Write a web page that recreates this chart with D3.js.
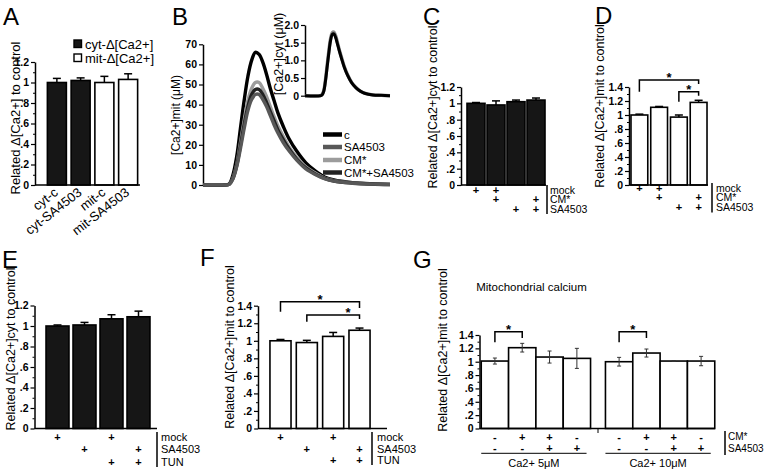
<!DOCTYPE html>
<html><head><meta charset="utf-8">
<script src="https://cdn.jsdelivr.net/npm/d3@7"></script>
<style>body{margin:0;background:#fff}svg{display:block}text{font-family:'Liberation Sans',Arial,Helvetica,sans-serif;fill:#000}</style>
</head><body><svg id="c" width="764" height="475"></svg>
<script>
// ---------------- DATA ----------------
// Panel A
const aCats = ["cyt-c","cyt-SA4503","mit-c","mit-SA4503"];
const aVals = [1.00, 1.02, 1.00, 1.03];
const aErr  = [0.04, 0.025, 0.06, 0.055];
const aLegend = ["cyt-Δ[Ca2+]","mit-Δ[Ca2+]"];
// Panel B (main: mitochondrial trace; inset: cytosolic trace)
const bTime = [0,12,14,16,18,20,22,24,26,28,30,32,34,36,38,40,43,46,50,55,60,65,70,80,90,100];
const bC    = [0,0,0.5,5,14,28,42,54,62,66,65,61,55,48,42,36,29,23,17,11,7,4,2.5,1.2,0.6,0.3];
const bSA   = [0,0,0.3,3,9,18,28,37,42.5,45,45,42.5,39,34.5,30,26,21,17,12.5,8,5.2,3.1,1.9,0.9,0.45,0.2];
const bCM   = [0,0,0.4,3.5,10,21,32,42,48,51,51,48,44,39,34,29.5,24,19,14,9,6,3.5,2.2,1.1,0.5,0.3];
const bCMSA = [0,0,0.4,3.2,9.5,19.5,30,39,45,47.5,47.5,45,41,36.5,32,27.5,22.5,18,13,8.5,5.5,3.3,2,1,0.5,0.25];
const bLegend = ["c","SA4503","CM*","CM*+SA4503"];
const bTicks = [0,10,20,30,40,50,60,70];
const insetTime = [0,18,20,22,24,26,28,30,32,34,36,38,40,43,46,50,55,60,65,70,80,90,100];
const insetGray = [0,0,0.03,0.14,0.44,0.85,1.26,1.6,1.78,1.8,1.7,1.52,1.33,1.08,0.84,0.6,0.37,0.23,0.13,0.07,0.02,0.01,0];
const insetBlack= [0,0,0.02,0.12,0.4,0.8,1.2,1.55,1.73,1.75,1.65,1.48,1.3,1.05,0.82,0.58,0.36,0.22,0.13,0.07,0.02,0.01,0];
const insetTicks = [0,0.5,1.0,1.5,2.0];
// Panel C
const cCats = ["mock","mock+CM*","SA4503","CM*+SA4503"];
const cVals = [1.00, 0.98, 1.02, 1.04];
const cErr  = [0.01, 0.05, 0.02, 0.025];
const cRowLabels = ["mock","CM*","SA4503"];
const cRows = [["+","+","",""],["","+","","+"],["","","+","+"]];
// Panel D
const dVals = [1.00, 1.11, 0.97, 1.18];
const dErr  = [0.012, 0.012, 0.03, 0.03];
// Panel E
const eCats = ["mock","SA4503","mock+TUN","SA4503+TUN"];
const eVals = [1.00, 1.01, 1.07, 1.09];
const eErr  = [0.01, 0.025, 0.04, 0.055];
const eRowLabels = ["mock","SA4503","TUN"];
const eRows = [["+","","+",""],["","+","","+"],["","","+","+"]];
// Panel F
const fVals = [1.00, 0.98, 1.05, 1.12];
const fErr  = [0.015, 0.025, 0.045, 0.025];
// Panel G
const gGroups = ["Ca2+ 5μM","Ca2+ 10μM"];
const gCats = ["ctrl","CM*","CM*+SA4503","SA4503"];
const gVals5  = [1.01, 1.21, 1.07, 1.05];
const gErr5   = [0.045, 0.065, 0.09, 0.15];
const gVals10 = [1.00, 1.13, 1.01, 1.01];
const gErr10  = [0.065, 0.06, 0.004, 0.07];
const gRowLabels = ["CM*","SA4503"];
const gRows = [["-","+","+","-"],["-","-","+","+"]];
const ticks12 = [0,0.2,0.4,0.6,0.8,1.0,1.2];
const ticks14 = [0,0.2,0.4,0.6,0.8,1.0,1.2,1.4];

// ---------------- DRAWING ----------------
const FONT = "'Liberation Sans', Arial, Helvetica, sans-serif";
const svg = d3.select("#c");
svg.append("rect").attr("width",764).attr("height",475).attr("fill","#fff");
const BLACK = "#161616";
const fmtFrac = d => d === 0 ? "0" : (d === 1 ? "1" : (d < 1 ? "." + Math.round(d*10) : d.toFixed(1)));

function letter(t,x,y){ svg.append("text").attr("x",x).attr("y",y).attr("font-size",24).text(t); }
function vTitle(t,x,cy,size){
  svg.append("text").attr("transform",`translate(${x},${cy}) rotate(-90)`)
    .attr("text-anchor","middle").attr("dy","0.35em").attr("font-size",size).text(t);
}
function yAxis(y, x, majors, fmt, minorStep){
  const g = svg.append("g").attr("transform",`translate(${x},0)`);
  g.call(d3.axisLeft(y).tickValues(majors).tickFormat(fmt).tickSize(4).tickSizeOuter(0));
  g.attr("font-family",FONT).attr("font-size",10.5).attr("font-weight","bold");
  g.select(".domain").attr("stroke","#000").attr("stroke-width",1.5);
  g.selectAll(".tick line").attr("stroke","#000").attr("stroke-width",1.2);
  g.selectAll(".tick text").attr("x",-6).attr("fill","#000");
  if (minorStep){
    const max = y.domain()[1];
    const minors = d3.range(minorStep, max, minorStep*2).map(v => +v.toFixed(3));
    const m = svg.append("g").attr("transform",`translate(${x},0)`);
    m.call(d3.axisLeft(y).tickValues(minors).tickFormat("").tickSize(2));
    m.select(".domain").remove();
    m.selectAll(".tick line").attr("stroke","#000");
  }
  return g;
}

function barPanel(o){
  const y = d3.scaleLinear().domain([0,o.ymax]).range([o.y0,o.yTop]);
  const x = d3.scaleBand().domain(o.cats).range(o.range).paddingInner(o.pi).paddingOuter(o.po);
  const bw = x.bandwidth();
  const g = svg.append("g");
  g.selectAll("rect").data(o.cats).join("rect")
    .attr("x",d=>x(d)).attr("y",(d,i)=>y(o.vals[i]))
    .attr("width",bw).attr("height",(d,i)=>o.y0-y(o.vals[i]))
    .attr("fill",(d,i)=>o.fills[i]).attr("stroke","#000").attr("stroke-width",1.6);
  o.cats.forEach((c,i)=>{
    const cx = x(c)+bw/2, yt = y(o.vals[i]), ye = y(o.vals[i]+o.errs[i]);
    g.append("line").attr("x1",cx).attr("x2",cx).attr("y1",yt).attr("y2",ye).attr("stroke","#000").attr("stroke-width",1.5);
    g.append("line").attr("x1",cx-4).attr("x2",cx+4).attr("y1",ye).attr("y2",ye).attr("stroke","#000").attr("stroke-width",1.5);
  });
  svg.append("line").attr("x1",o.axisX).attr("x2",o.baseEnd).attr("y1",o.y0).attr("y2",o.y0).attr("stroke","#000").attr("stroke-width",1.5);
  yAxis(y, o.axisX, o.ticks, fmtFrac, 0.1);
  if (o.rows){
    o.rows.forEach((row,r)=>{
      row.forEach((s,i)=>{
        if (!s) return;
        svg.append("text").attr("x",x(o.cats[i])+bw/2).attr("y",o.rowYs[r]).attr("dy","0.35em")
          .attr("text-anchor","middle").attr("font-size",11).attr("font-weight","bold").text(s);
      });
      svg.append("text").attr("x",o.labelX).attr("y",o.rowYs[r]).attr("dy","0.35em")
        .attr("font-size",o.labelSize||10.5).text(o.rowLabels[r]);
    });
    svg.append("line").attr("x1",o.sepX).attr("x2",o.sepX)
      .attr("y1",o.rowYs[0]-5).attr("y2",o.rowYs[o.rowYs.length-1]+5).attr("stroke","#000").attr("stroke-width",1.5);
  }
  (o.brackets||[]).forEach(b=>{
    const xi = x(o.cats[b.i])+bw/2, xj = x(o.cats[b.j])+bw/2;
    svg.append("path").attr("d",`M${xi},${y(b.l)}V${y(b.top)}H${xj}V${y(b.r)}`)
      .attr("fill","none").attr("stroke","#000").attr("stroke-width",1.5);
    svg.append("text").attr("x",xi+(xj-xi)*b.star).attr("y",y(b.top)-5+7.4)
      .attr("text-anchor","middle").attr("font-size",13).attr("font-weight","bold").text("*");
  });
  return {x,y};
}

// ---- Panel A ----
letter("A",3,25);
vTitle("Related Δ[Ca2+] to control",15,118,13);
const A = barPanel({cats:aCats, vals:aVals, errs:aErr, fills:[BLACK,BLACK,"#fff","#fff"],
  ymax:1.2, y0:185, yTop:62, range:[45,140], pi:0.2, po:0.1, axisX:35, baseEnd:140, ticks:ticks12});
aCats.forEach(c=>{
  const cx = A.x(c)+A.x.bandwidth()/2;
  svg.append("text").attr("transform",`translate(${cx+2},194) rotate(-38)`).attr("text-anchor","end")
    .attr("font-size",13).text(c);
});
aLegend.forEach((t,i)=>{
  svg.append("rect").attr("x",74).attr("y",40+i*14).attr("width",7.5).attr("height",7.5)
    .attr("fill",i===0?BLACK:"#fff").attr("stroke","#000").attr("stroke-width",1.4);
  svg.append("text").attr("x",85).attr("y",44+i*14).attr("dy","0.35em").attr("font-size",13).text(t);
});

// ---- Panel B ----
letter("B",172,25);
const bx = d3.scaleLinear().domain([0,100]).range([203,390]);
const by = d3.scaleLinear().domain([0,70]).range([185,44.3]);
yAxis(by, 203, bTicks, d=>d, null);
vTitle("[Ca2+]mit (μM)",176,115,12);
const bSeries = [
  {name:"c", vals:bC, color:"#000"},
  {name:"CM*", vals:bCM, color:"#9c9c9c"},
  {name:"CM*+SA4503", vals:bCMSA, color:"#222"},
  {name:"SA4503", vals:bSA, color:"#585858"}
];
const bLine = vals => d3.line().x((d,i)=>bx(bTime[i])).y(d=>by(d)).curve(d3.curveCatmullRom)(vals);
bSeries.forEach(s=>{
  svg.append("path").attr("d",bLine(s.vals)).attr("fill","none").attr("stroke",s.color)
    .attr("stroke-width",3.4).attr("stroke-linejoin","round");
});
const legColors = {"c":"#000","SA4503":"#585858","CM*":"#9c9c9c","CM*+SA4503":"#222"};
const legYs = [134.5,147,160,172.5];
bLegend.forEach((t,i)=>{
  svg.append("line").attr("x1",323).attr("x2",342).attr("y1",legYs[i]).attr("y2",legYs[i])
    .attr("stroke",legColors[t]).attr("stroke-width",4.5);
  svg.append("text").attr("x",344).attr("y",legYs[i]).attr("dy","0.35em").attr("font-size",11.5).text(t);
});
// inset
const ix = d3.scaleLinear().domain([0,100]).range([305,390]);
const iy = d3.scaleLinear().domain([0,2]).range([95.7,25]);
yAxis(iy, 305, insetTicks, d=>d===0?"0":d3.format(".1f")(d), null);
vTitle("[Ca2+]cyt (μM)",279,54,12.5);
const iLine = vals => d3.line().x((d,i)=>ix(insetTime[i])).y(d=>iy(d)).curve(d3.curveCatmullRom)(vals);
svg.append("path").attr("d",iLine(insetGray)).attr("fill","none").attr("stroke","#8a8a8a").attr("stroke-width",3.4);
svg.append("path").attr("d",iLine(insetBlack)).attr("fill","none").attr("stroke","#000").attr("stroke-width",3);

// ---- Panel C ----
letter("C",423,25);
vTitle("Related Δ[Ca2+]cyt to control",433,107,12.5);
barPanel({cats:cCats, vals:cVals, errs:cErr, fills:cCats.map(()=>BLACK),
  ymax:1.2, y0:185, yTop:87, range:[466,546], pi:0.1, po:0.05, axisX:461, baseEnd:546, ticks:ticks12,
  rows:cRows, rowLabels:cRowLabels, rowYs:[190,199.5,209], sepX:547, labelX:550});

// ---- Panel D ----
letter("D",595,24);
vTitle("Related Δ[Ca2+]mit to control",600,106,12.5);
barPanel({cats:cCats, vals:dVals, errs:dErr, fills:cCats.map(()=>"#fff"),
  ymax:1.4, y0:185, yTop:87, range:[630,708], pi:0.15, po:0.05, axisX:629, baseEnd:708, ticks:ticks14,
  rows:cRows, rowLabels:cRowLabels, rowYs:[188,197.5,207.5], sepX:712, labelX:716,
  brackets:[{i:0,j:3,top:1.5,l:1.333,r:1.443,star:0.5},{i:2,j:3,top:1.333,l:1.19,r:1.276,star:0.5}]});

// ---- Panel E ----
letter("E",2,268);
vTitle("Related Δ[Ca2+]cyt to control",11,349,12.5);
barPanel({cats:eCats, vals:eVals, errs:eErr, fills:eCats.map(()=>BLACK),
  ymax:1.2, y0:428.5, yTop:305.5, range:[44,152], pi:0.15, po:0.075, axisX:34.5, baseEnd:157, ticks:ticks12,
  rows:eRows, rowLabels:eRowLabels, rowYs:[437,449.5,462], sepX:157, labelX:161, labelSize:11});

// ---- Panel F ----
letter("F",200,266);
vTitle("Related Δ[Ca2+]mit to control",230,347,12.5);
barPanel({cats:eCats, vals:fVals, errs:fErr, fills:eCats.map(()=>"#fff"),
  ymax:1.4, y0:428.5, yTop:305.7, range:[266,374], pi:0.2, po:0.15, axisX:258, baseEnd:387, ticks:ticks14,
  rows:eRows, rowLabels:eRowLabels, rowYs:[437,448.7,460], sepX:372, labelX:377, labelSize:11,
  brackets:[{i:0,j:3,top:1.446,l:1.332,r:1.374,star:0.5},{i:1,j:3,top:1.294,l:1.218,r:1.249,star:0.78}]});

// ---- Panel G ----
letter("G",413,268);
vTitle("Related Δ[Ca2+]mit to control",443,350,12.5);
svg.append("text").attr("x",531.5).attr("y",291).attr("text-anchor","middle")
  .attr("font-family","'Open Sans', sans-serif").attr("font-size",11.5).text("Mitochondrial calcium");
const gy = d3.scaleLinear().domain([0,1.4]).range([428.5,335]);
const gx0 = d3.scaleBand().domain(gGroups).range([480,716]).paddingInner(0.12).paddingOuter(0.01);
const gx1 = d3.scaleBand().domain(gCats).range([0,gx0.bandwidth()]);
const gVals = [gVals5, gVals10], gErrs = [gErr5, gErr10];
const gRowYs = [436.7,448.3];
gGroups.forEach((grp,k)=>{
  const g = svg.append("g").attr("transform",`translate(${gx0(grp)},0)`);
  g.selectAll("rect").data(gCats).join("rect")
    .attr("x",d=>gx1(d)).attr("y",(d,i)=>gy(gVals[k][i])).attr("width",gx1.bandwidth())
    .attr("height",(d,i)=>428.5-gy(gVals[k][i])).attr("fill","#fff").attr("stroke","#000").attr("stroke-width",1.6);
  gCats.forEach((c,i)=>{
    const cx = gx1(c)+gx1.bandwidth()/2, v=gVals[k][i], e=gErrs[k][i];
    g.append("line").attr("x1",cx).attr("x2",cx).attr("y1",gy(v-e)).attr("y2",gy(v+e)).attr("stroke","#333").attr("stroke-width",1);
    [v-e,v+e].forEach(w=>g.append("line").attr("x1",cx-2).attr("x2",cx+2).attr("y1",gy(w)).attr("y2",gy(w)).attr("stroke","#333").attr("stroke-width",1));
    gRows.forEach((row,r)=>{
      g.append("text").attr("x",cx).attr("y",gRowYs[r]).attr("dy","0.35em").attr("text-anchor","middle")
        .attr("font-size",11).attr("font-weight","bold").text(row[i]);
    });
  });
  const xa = gx1(gCats[0])+gx1.bandwidth()/2, xb = gx1(gCats[1])+gx1.bandwidth()/2;
  g.append("path").attr("d",`M${xa},${gy(1.29)}V${gy(1.449)}H${xb}V${gy(1.355)}`).attr("fill","none").attr("stroke","#000").attr("stroke-width",1.5);
  g.append("text").attr("x",(xa+xb)/2).attr("y",gy(1.449)-5+7.4).attr("text-anchor","middle").attr("font-size",13).attr("font-weight","bold").text("*");
  g.append("line").attr("x1",0).attr("x2",gx0.bandwidth()-4).attr("y1",453.3).attr("y2",453.3).attr("stroke","#000").attr("stroke-width",1);
  g.append("text").attr("x",gx0.bandwidth()/2-2).attr("y",463.5).attr("dy","0.35em").attr("text-anchor","middle").attr("font-size",11).text(grp);
});
svg.append("line").attr("x1",479.5).attr("x2",715).attr("y1",428.5).attr("y2",428.5).attr("stroke","#000").attr("stroke-width",1.5);
const gap = (gx0(gGroups[0])+gx0.bandwidth()+gx0(gGroups[1]))/2;
svg.append("line").attr("x1",gap).attr("x2",gap).attr("y1",428.5).attr("y2",433).attr("stroke","#000").attr("stroke-width",1);
yAxis(gy, 479.5, ticks14, fmtFrac, 0.1);
gRowLabels.forEach((t,r)=>{
  svg.append("text").attr("x",728).attr("y",gRowYs[r]).attr("dy","0.35em").attr("font-size",10).text(t);
});
svg.append("line").attr("x1",725).attr("x2",725).attr("y1",431).attr("y2",455).attr("stroke","#000").attr("stroke-width",1.5);
</script></body></html>
